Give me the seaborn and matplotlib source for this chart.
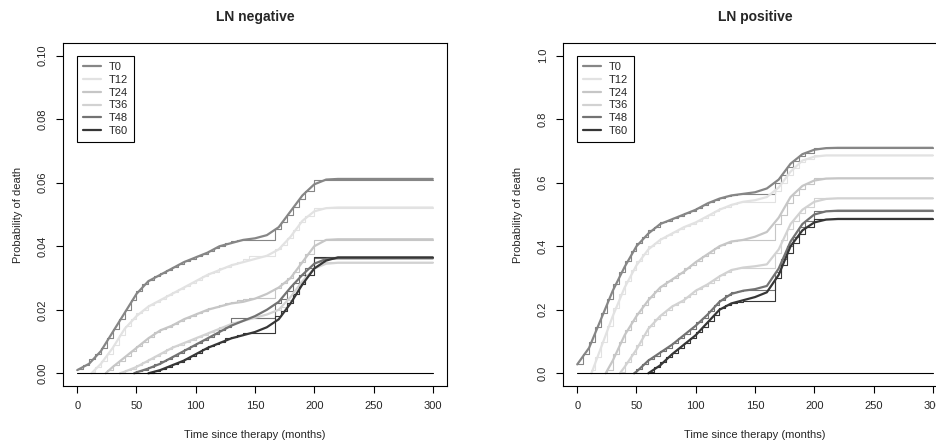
import matplotlib
matplotlib.use("Agg")
import matplotlib.pyplot as plt
import seaborn as sns
import pandas as pd

# Landmark groups (start month of each curve)
GROUPS = ["T0", "T12", "T24", "T36", "T48", "T60"]
LANDMARKS = [0, 12, 24, 36, 48, 60]
COLORS = ["#868686", "#e2e2e2", "#c6c6c6", "#d2d2d2", "#737373", "#363636"]

# Smoothed curves, LN negative (values at landmark, every 10 months up to 220, then 300)
neg_fit_T0 = [0.001, 0.003, 0.007, 0.013, 0.019, 0.025, 0.029, 0.031, 0.033, 0.035, 0.0365, 0.038,
              0.040, 0.041, 0.042, 0.0425, 0.0435, 0.046, 0.051, 0.056, 0.0595, 0.061, 0.0612, 0.0612]
neg_fit_T12 = [0.0, 0.003, 0.008, 0.014, 0.018, 0.021, 0.023, 0.025, 0.027, 0.029, 0.031, 0.0325,
               0.034, 0.035, 0.036, 0.037, 0.039, 0.043, 0.048, 0.051, 0.052, 0.0522, 0.0522]
neg_fit_T24 = [0.0, 0.002, 0.005, 0.008, 0.011, 0.0135, 0.015, 0.017, 0.0185, 0.020, 0.021, 0.022,
               0.0225, 0.0235, 0.025, 0.027, 0.030, 0.035, 0.040, 0.042, 0.0422, 0.0422]
neg_fit_T36 = [0.0, 0.0005, 0.002, 0.004, 0.006, 0.008, 0.0095, 0.011, 0.0125, 0.014, 0.0155, 0.0165,
               0.0175, 0.0185, 0.020, 0.024, 0.029, 0.033, 0.0345, 0.0348, 0.0348]
neg_fit_T48 = [0.0, 0.0003, 0.0015, 0.003, 0.005, 0.007, 0.009, 0.011, 0.013, 0.015, 0.0165, 0.018,
               0.020, 0.0225, 0.027, 0.031, 0.0345, 0.036, 0.0362, 0.0362]
neg_fit_T60 = [0.0, 0.001, 0.0025, 0.004, 0.006, 0.008, 0.0095, 0.011, 0.012, 0.013, 0.0145, 0.017,
               0.022, 0.028, 0.033, 0.0355, 0.0365, 0.0365]

# Smoothed curves, LN positive
pos_fit_T0 = [0.028, 0.08, 0.17, 0.26, 0.335, 0.40, 0.44, 0.47, 0.485, 0.50, 0.515, 0.535, 0.55, 0.56,
              0.565, 0.57, 0.582, 0.61, 0.66, 0.69, 0.704, 0.709, 0.71, 0.71]
pos_fit_T12 = [0.0, 0.08, 0.18, 0.27, 0.34, 0.39, 0.42, 0.44, 0.46, 0.475, 0.495, 0.515, 0.53, 0.54,
               0.545, 0.555, 0.585, 0.635, 0.67, 0.682, 0.686, 0.686, 0.686]
pos_fit_T24 = [0.0, 0.04, 0.12, 0.18, 0.23, 0.27, 0.295, 0.32, 0.35, 0.375, 0.40, 0.415, 0.42, 0.43,
               0.445, 0.49, 0.555, 0.59, 0.607, 0.613, 0.614, 0.614]
pos_fit_T36 = [0.0, 0.02, 0.075, 0.14, 0.18, 0.21, 0.23, 0.26, 0.28, 0.305, 0.325, 0.333, 0.337, 0.343,
               0.39, 0.47, 0.515, 0.54, 0.549, 0.551, 0.551]
pos_fit_T48 = [0.0, 0.005, 0.04, 0.065, 0.09, 0.12, 0.15, 0.185, 0.225, 0.25, 0.26, 0.265, 0.275, 0.33,
               0.415, 0.47, 0.5, 0.51, 0.512, 0.512]
pos_fit_T60 = [0.0, 0.025, 0.06, 0.09, 0.12, 0.16, 0.2, 0.22, 0.23, 0.24, 0.255, 0.31, 0.4, 0.45, 0.475,
               0.484, 0.486, 0.486]

# Kaplan-Meier steps: landmark, every 5 months up to 145, then 167, 172, 177, 182, 187, 192, 200, 300
neg_km_T0 = [0.0015, 0.0025, 0.0045, 0.006, 0.008, 0.011, 0.014, 0.017, 0.020, 0.023, 0.026, 0.028,
             0.0295, 0.0305, 0.0315, 0.0325, 0.0335, 0.0345, 0.0355, 0.036, 0.037, 0.0375, 0.0385,
             0.0395, 0.040, 0.041, 0.0415, 0.042, 0.042, 0.042,
             0.0455, 0.0475, 0.050, 0.0525, 0.055, 0.0575, 0.061, 0.061]
neg_km_T12 = [0.0005, 0.002, 0.004, 0.006, 0.009, 0.012, 0.015, 0.017, 0.019, 0.020, 0.0215, 0.0225,
              0.0235, 0.0245, 0.0255, 0.0265, 0.0275, 0.0285, 0.0295, 0.0305, 0.0315, 0.032, 0.033,
              0.0335, 0.0345, 0.035, 0.036, 0.0368,
              0.039, 0.0405, 0.0425, 0.045, 0.0475, 0.0495, 0.052, 0.052]
neg_km_T24 = [0.0003, 0.001, 0.0025, 0.004, 0.0055, 0.007, 0.0085, 0.010, 0.0115, 0.013, 0.014, 0.0145,
              0.0155, 0.0165, 0.0175, 0.018, 0.019, 0.0195, 0.0205, 0.021, 0.0215, 0.022, 0.0225,
              0.023, 0.0235, 0.0238,
              0.027, 0.0285, 0.030, 0.032, 0.035, 0.0375, 0.042, 0.042]
neg_km_T36 = [0.0002, 0.001, 0.0015, 0.0025, 0.0035, 0.0045, 0.0055, 0.0065, 0.0075, 0.0085, 0.009,
              0.010, 0.0105, 0.0115, 0.012, 0.013, 0.0135, 0.0145, 0.015, 0.016, 0.0165, 0.017, 0.0175,
              0.020, 0.021, 0.023, 0.025, 0.028, 0.031, 0.035, 0.035]
neg_km_T48 = [0.0002, 0.0006, 0.001, 0.002, 0.0028, 0.0038, 0.0045, 0.0055, 0.0065, 0.0075, 0.0085,
              0.0095, 0.0105, 0.0115, 0.0125, 0.0135, 0.0145, 0.0174, 0.0174, 0.0174, 0.0174,
              0.022, 0.0235, 0.026, 0.0285, 0.031, 0.033, 0.0362, 0.0362]
neg_km_T60 = [0.0002, 0.0007, 0.0012, 0.002, 0.003, 0.0035, 0.0045, 0.0055, 0.0065, 0.0075, 0.0085,
              0.0092, 0.010, 0.011, 0.0115, 0.0122, 0.0127, 0.0127,
              0.018, 0.0195, 0.022, 0.025, 0.028, 0.031, 0.0365, 0.0365]

pos_km_T0 = [0.03, 0.06, 0.10, 0.145, 0.19, 0.235, 0.28, 0.32, 0.355, 0.385, 0.41, 0.43, 0.45, 0.46,
             0.475, 0.48, 0.49, 0.495, 0.505, 0.51, 0.52, 0.53, 0.54, 0.545, 0.553, 0.558, 0.562, 0.565,
             0.566, 0.566,
             0.60, 0.625, 0.65, 0.67, 0.685, 0.695, 0.709, 0.709]
pos_km_T12 = [0.01, 0.05, 0.10, 0.15, 0.205, 0.25, 0.29, 0.325, 0.355, 0.375, 0.40, 0.41, 0.425, 0.435,
              0.445, 0.455, 0.465, 0.47, 0.48, 0.49, 0.50, 0.51, 0.52, 0.525, 0.533, 0.538, 0.539, 0.539,
              0.575, 0.60, 0.625, 0.645, 0.665, 0.675, 0.686, 0.686]
pos_km_T24 = [0.005, 0.01, 0.06, 0.10, 0.135, 0.165, 0.19, 0.215, 0.24, 0.26, 0.275, 0.29, 0.30, 0.315,
              0.33, 0.34, 0.355, 0.37, 0.38, 0.395, 0.405, 0.41, 0.417, 0.42, 0.421, 0.421,
              0.47, 0.50, 0.535, 0.56, 0.58, 0.595, 0.614, 0.614]
pos_km_T36 = [0.005, 0.035, 0.06, 0.09, 0.12, 0.15, 0.17, 0.185, 0.20, 0.215, 0.225, 0.24, 0.25, 0.265,
              0.275, 0.285, 0.295, 0.31, 0.32, 0.328, 0.33, 0.331, 0.331,
              0.38, 0.42, 0.455, 0.48, 0.505, 0.525, 0.551, 0.551]
pos_km_T48 = [0.005, 0.015, 0.03, 0.045, 0.055, 0.07, 0.08, 0.095, 0.11, 0.125, 0.14, 0.16, 0.175, 0.195,
              0.215, 0.23, 0.245, 0.255, 0.26, 0.262, 0.262,
              0.32, 0.36, 0.40, 0.43, 0.46, 0.48, 0.512, 0.512]
pos_km_T60 = [0.005, 0.02, 0.035, 0.05, 0.065, 0.08, 0.095, 0.11, 0.13, 0.145, 0.165, 0.185, 0.205,
              0.215, 0.222, 0.226, 0.228, 0.228,
              0.30, 0.34, 0.38, 0.41, 0.44, 0.46, 0.486, 0.486]

ZERO_T = [0, 300]


def fit_times(lm):
    return [lm] + [t for t in range(10, 230, 10) if t > lm] + [300]


def km_times(lm):
    return [lm] + [t for t in range(5, 150, 5) if t > lm] + [167, 172, 177, 182, 187, 192, 200, 300]


def long_frame(series, times_fn):
    rows = []
    for g, lm, vals in zip(GROUPS, LANDMARKS, series):
        ts = times_fn(lm)
        assert len(ts) == len(vals), (g, len(ts), len(vals))
        rows += [{"time": t, "prob": v, "group": g} for t, v in zip(ts, vals)]
    return pd.DataFrame(rows)


panels = [
    ("LN negative", [neg_fit_T0, neg_fit_T12, neg_fit_T24, neg_fit_T36, neg_fit_T48, neg_fit_T60],
     [neg_km_T0, neg_km_T12, neg_km_T24, neg_km_T36, neg_km_T48, neg_km_T60],
     0.10, [0.00, 0.02, 0.04, 0.06, 0.08, 0.10], ["0.00", "0.02", "0.04", "0.06", "0.08", "0.10"]),
    ("LN positive", [pos_fit_T0, pos_fit_T12, pos_fit_T24, pos_fit_T36, pos_fit_T48, pos_fit_T60],
     [pos_km_T0, pos_km_T12, pos_km_T24, pos_km_T36, pos_km_T48, pos_km_T60],
     1.0, [0.0, 0.2, 0.4, 0.6, 0.8, 1.0], ["0.0", "0.2", "0.4", "0.6", "0.8", "1.0"]),
]

sns.set_style("ticks")
plt.rcParams["font.family"] = ["Liberation Sans", "DejaVu Sans"]
palette = dict(zip(GROUPS, COLORS))

W, H = 936, 442
fig = plt.figure(figsize=(W / 100, H / 100), dpi=100)
lefts = [63, 563]

for (title, fits, kms, ymax, yticks, ylabels), left in zip(panels, lefts):
    ax = fig.add_axes([left / W, 1 - 386 / H, 384 / W, 343 / H])
    df_km = long_frame(kms, km_times)
    df_fit = long_frame(fits, fit_times)
    sns.lineplot(data=df_km, x="time", y="prob", hue="group", palette=palette, hue_order=GROUPS,
                 estimator=None, drawstyle="steps-post", linewidth=0.8, legend=False, ax=ax)
    sns.lineplot(data=df_fit, x="time", y="prob", hue="group", palette=palette, hue_order=GROUPS,
                 estimator=None, linewidth=1.6, ax=ax)
    ax.plot(ZERO_T, [0, 0], color="black", linewidth=0.8)

    ax.set_xlim(-12, 312)
    ax.set_ylim(-0.04 * ymax, 1.04 * ymax)
    ax.set_xticks([0, 50, 100, 150, 200, 250, 300])
    ax.set_yticks(yticks)
    ax.set_yticklabels(ylabels, rotation=90, va="center")
    ax.tick_params(axis="both", direction="out", length=5, width=0.8, labelsize=8, color="black")
    ax.tick_params(axis="x", pad=6)
    ax.tick_params(axis="y", pad=6)
    for s in ax.spines.values():
        s.set_color("black")
        s.set_linewidth(0.8)
    ax.set_xlabel("Time since therapy (months)", fontsize=8)
    ax.set_ylabel("Probability of death", fontsize=8)
    ax.xaxis.set_label_coords(0.5, -0.128)
    ax.yaxis.set_label_coords(-0.104, 0.5)
    ax.set_title(title, fontsize=10, fontweight="bold", pad=16)

    leg = ax.legend(loc="upper left", bbox_to_anchor=(0.037, 0.962), borderaxespad=0, fontsize=8,
                    handlelength=1.6, handletextpad=0.7, labelspacing=0.25, borderpad=0.55,
                    fancybox=False, framealpha=1, edgecolor="black", title=None)
    leg.get_frame().set_linewidth(0.8)
    for line in leg.get_lines():
        line.set_linewidth(1.6)

fig.savefig("out.png", dpi=100)
